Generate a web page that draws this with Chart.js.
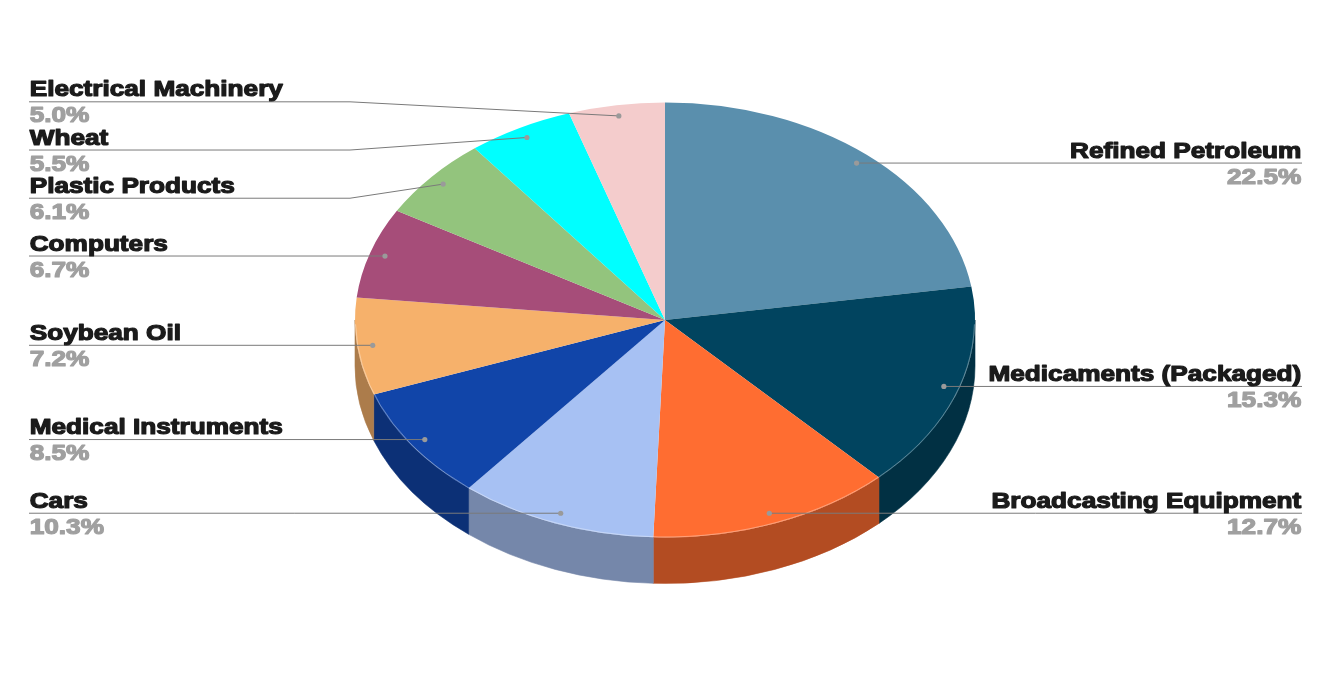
<!DOCTYPE html>
<html>
<head>
<meta charset="utf-8">
<title>Export shares</title>
<script src="https://cdn.jsdelivr.net/npm/chart.js@4.4.1/dist/chart.umd.min.js"></script>
<style>
  html, body { margin: 0; padding: 0; background: #ffffff; }
  #wrap { width: 1327px; height: 687px; }
  canvas { display: block; }
</style>
</head>
<body>
<div id="wrap"><canvas id="chart" width="1327" height="687"></canvas></div>
<script>
// Export categories, clockwise from 12 o'clock
const categories = [
  'Refined Petroleum', 'Medicaments (Packaged)', 'Broadcasting Equipment', 'Cars',
  'Medical Instruments', 'Soybean Oil', 'Computers', 'Plastic Products', 'Wheat',
  'Electrical Machinery'
];
// Share of total, percent
const shares = [22.5, 15.3, 12.7, 10.3, 8.5, 7.2, 6.7, 6.1, 5.5, 5.0];
const sliceColors = [
  '#5a8fad', '#01445f', '#ff6d31', '#a7c1f3', '#1145a9',
  '#f6b16b', '#a64d79', '#93c47d', '#00ffff', '#f4cccc'
];

// 3D look: vertical squash of the face and thickness of the rim
const TILT = 217.5 / 310;
const DEPTH = 46;
const LABEL_GAP = 48.2;
// wide, heavy label lettering
const TEXT_STRETCH = 1.19;

function shade(hex, f) {
  const n = parseInt(hex.slice(1), 16);
  const r = Math.round(((n >> 16) & 255) * f);
  const g = Math.round(((n >> 8) & 255) * f);
  const b = Math.round((n & 255) * f);
  return `rgb(${r},${g},${b})`;
}

// Push overlapping labels apart; a merged group is centred between its first and last wish
function spreadLabels(items, gap) {
  items.sort((a, b) => a.want - b.want);
  const groups = items.map(it => ({ items: [it], y: it.want }));
  let merged = true;
  while (merged) {
    merged = false;
    for (let i = 0; i < groups.length - 1; i++) {
      const g = groups[i], h = groups[i + 1];
      const gEnd = g.y + (g.items.length - 1) * gap;
      if (h.y - gEnd < gap) {
        const all = g.items.concat(h.items);
        const mid = (all[0].want + all[all.length - 1].want) / 2;
        groups.splice(i, 2, { items: all, y: mid - (all.length - 1) * gap / 2 });
        merged = true;
        break;
      }
    }
  }
  groups.forEach(g => g.items.forEach((it, j) => { it.y = g.y + j * gap; }));
}

function drawHeavyText(ctx, txt, x, y, color, align) {
  ctx.save();
  ctx.font = 'bold 22px "Liberation Sans", Arial, sans-serif';
  ctx.textAlign = align;
  ctx.textBaseline = 'alphabetic';
  ctx.fillStyle = color;
  ctx.strokeStyle = color;
  ctx.lineWidth = 1.2;
  ctx.lineJoin = 'round';
  ctx.translate(x, y);
  ctx.scale(TEXT_STRETCH, 1);
  const off = align === 'right' ? -0.6 : 0.6;
  ctx.fillText(txt, off, 0);
  ctx.strokeText(txt, off, 0);
  ctx.restore();
}

const pie3d = {
  id: 'pie3d',
  beforeDatasetsDraw(chart) {
    const ctx = chart.ctx;
    const arcs = chart.getDatasetMeta(0).data;
    const cx = arcs[0].x, cy = arcs[0].y, r = arcs[0].outerRadius, ry = r * TILT;
    ctx.save();
    // front rim of each slice
    arcs.forEach((a, i) => {
      const s = Math.max(a.startAngle, 0);
      const e = Math.min(a.endAngle, Math.PI);
      if (e <= s) return;
      ctx.beginPath();
      ctx.ellipse(cx, cy, r, ry, 0, s, e, false);
      ctx.ellipse(cx, cy + DEPTH, r, ry, 0, e, s, true);
      ctx.closePath();
      ctx.fillStyle = shade(sliceColors[i], 0.7);
      ctx.fill();
      ctx.strokeStyle = shade(sliceColors[i], 0.7);
      ctx.lineWidth = 0.6;
      ctx.stroke();
    });
    // squash the face into an ellipse
    ctx.translate(0, cy);
    ctx.scale(1, TILT);
    ctx.translate(0, -cy);
  },
  afterDatasetsDraw(chart) {
    const ctx = chart.ctx;
    ctx.restore();
    const arcs = chart.getDatasetMeta(0).data;
    const cx = arcs[0].x, cy = arcs[0].y, r = arcs[0].outerRadius, ry = r * TILT;
    // faint highlight where the face meets the rim
    ctx.save();
    ctx.beginPath();
    ctx.ellipse(cx, cy, r - 0.5, ry - 0.5, 0, 0.02, Math.PI - 0.02, false);
    ctx.strokeStyle = 'rgba(255,255,255,0.35)';
    ctx.lineWidth = 1;
    ctx.stroke();
    ctx.restore();
  },
  afterDraw(chart) {
    const ctx = chart.ctx;
    const arcs = chart.getDatasetMeta(0).data;
    const cx = arcs[0].x, cy = arcs[0].y, r = arcs[0].outerRadius, ry = r * TILT;
    const left = [], right = [];
    arcs.forEach((a, i) => {
      const mid = (a.startAngle + a.endAngle) / 2;
      const dx = cx + 0.95 * r * Math.cos(mid);
      const dy = cy + 0.95 * ry * Math.sin(mid);
      const item = { i, dx, dy, want: dy };
      (Math.cos(mid) >= 0 ? right : left).push(item);
    });
    spreadLabels(left, LABEL_GAP);
    spreadLabels(right, LABEL_GAP);

    const textLeft = 29, textRight = 1302;
    const elbowL = cx - r - 5, elbowR = cx + r + 5;

    ctx.save();
    const drawOne = (it, side) => {
      const y = it.y;
      // leader line
      ctx.beginPath();
      ctx.strokeStyle = '#7a7a7a';
      ctx.lineWidth = 1;
      if (side === 'left') {
        ctx.moveTo(textLeft, y);
        if (Math.abs(y - it.dy) > 0.5) ctx.lineTo(elbowL, y);
        ctx.lineTo(it.dx, it.dy);
      } else {
        ctx.moveTo(textRight, y);
        if (Math.abs(y - it.dy) > 0.5) ctx.lineTo(elbowR, y);
        ctx.lineTo(it.dx, it.dy);
      }
      ctx.stroke();
      // anchor dot
      ctx.beginPath();
      ctx.arc(it.dx, it.dy, 2.6, 0, Math.PI * 2);
      ctx.fillStyle = '#9a9a9a';
      ctx.fill();
      // texts
      const x = side === 'left' ? textLeft : textRight;
      const align = side === 'left' ? 'left' : 'right';
      drawHeavyText(ctx, categories[it.i], x, y - 5.5, '#1b1b1b', align);
      drawHeavyText(ctx, shares[it.i].toFixed(1) + '%', x, y + 20.5, '#a0a0a0', align);
    };
    left.forEach(it => drawOne(it, 'left'));
    right.forEach(it => drawOne(it, 'right'));
    ctx.restore();
  }
};

new Chart(document.getElementById('chart'), {
  type: 'pie',
  data: {
    labels: categories,
    datasets: [{
      data: shares,
      backgroundColor: sliceColors,
      borderWidth: 0,
      hoverOffset: 0
    }]
  },
  options: {
    responsive: false,
    animation: false,
    radius: 310,
    layout: { padding: { left: 3, right: 0, top: 0, bottom: 47 } },
    plugins: {
      legend: { display: false },
      tooltip: { enabled: false }
    },
    events: []
  },
  plugins: [pie3d]
});
</script>
</body>
</html>
